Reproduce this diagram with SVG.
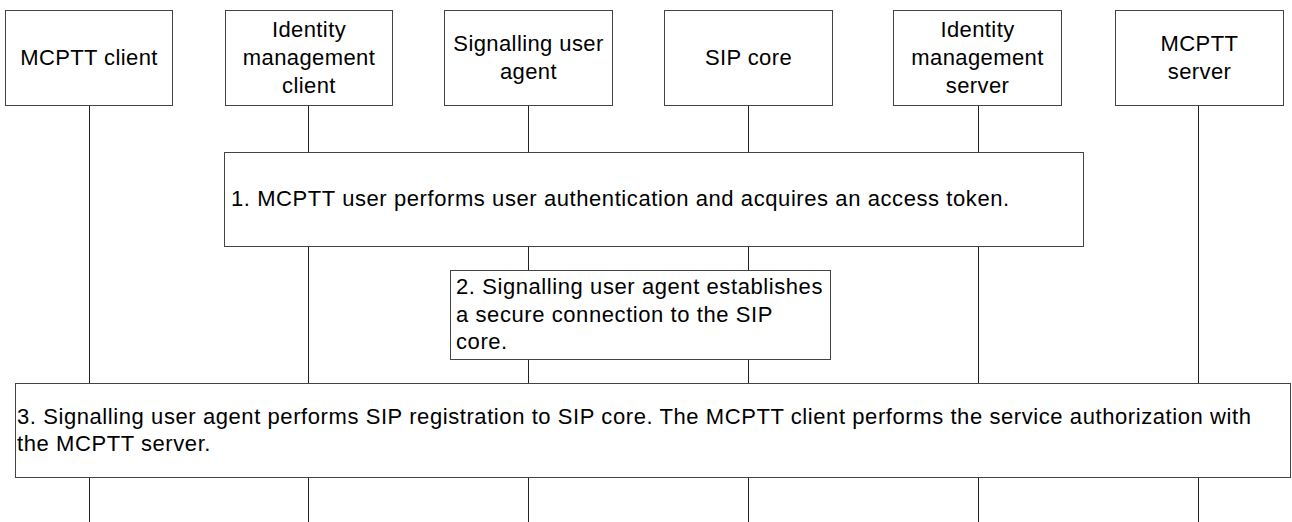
<svg xmlns="http://www.w3.org/2000/svg" width="1292" height="522" viewBox="0 0 1292 522">
<style>
.box{fill:#fff;stroke:#444;stroke-width:1}
.life{stroke:#222;stroke-width:1}
.h{font-family:"Liberation Sans",Arial,sans-serif;font-size:22px;letter-spacing:0.4px;fill:#000;text-anchor:middle}
.s{font-family:"Liberation Sans",Arial,sans-serif;font-size:22px;letter-spacing:0.58px;fill:#000}
</style>
<rect width="1292" height="522" fill="#fff"/>
<g id="connectors">
<line class="life" x1="89.5" y1="105" x2="89.5" y2="522"/>
<line class="life" x1="308.5" y1="105" x2="308.5" y2="522"/>
<line class="life" x1="528.5" y1="105" x2="528.5" y2="522"/>
<line class="life" x1="748.5" y1="105" x2="748.5" y2="522"/>
<line class="life" x1="978.5" y1="105" x2="978.5" y2="522"/>
<line class="life" x1="1198.5" y1="105" x2="1198.5" y2="522"/>
</g>
<g id="mcptt-client">
<rect class="box" x="5.5" y="10.5" width="167" height="95"/>
<text class="h" x="89" y="65">MCPTT client</text>
</g>
<g id="idm-client">
<rect class="box" x="225.5" y="10.5" width="167" height="95"/>
<text class="h" x="309" y="37">Identity</text>
<text class="h" x="309" y="65">management</text>
<text class="h" x="309" y="93">client</text>
</g>
<g id="sig-ua">
<rect class="box" x="444.5" y="10.5" width="168" height="95"/>
<text class="h" x="528.5" y="51">Signalling user</text>
<text class="h" x="528.5" y="79">agent</text>
</g>
<g id="sip-core">
<rect class="box" x="664.5" y="10.5" width="168" height="95"/>
<text class="h" x="748.5" y="65">SIP core</text>
</g>
<g id="idm-server">
<rect class="box" x="893.5" y="10.5" width="168" height="95"/>
<text class="h" x="977.5" y="37">Identity</text>
<text class="h" x="977.5" y="65">management</text>
<text class="h" x="977.5" y="93">server</text>
</g>
<g id="mcptt-server">
<rect class="box" x="1115.5" y="10.5" width="168" height="95"/>
<text class="h" x="1199.5" y="51">MCPTT</text>
<text class="h" x="1199.5" y="79">server</text>
</g>
<g id="step1">
<rect class="box" x="224.5" y="152.5" width="859" height="94"/>
<text class="s" x="231" y="206">1. MCPTT user performs user authentication and acquires an access token.</text>
</g>
<g id="step2">
<rect class="box" x="450.5" y="270.5" width="380" height="89"/>
<text class="s" x="456" y="294">2. Signalling user agent establishes</text>
<text class="s" x="456" y="322">a secure connection to the SIP</text>
<text class="s" x="456" y="349">core.</text>
</g>
<g id="step3">
<rect class="box" x="15.5" y="383.5" width="1275" height="94"/>
<text class="s" x="17" y="424">3. Signalling user agent performs SIP registration to SIP core. The MCPTT client performs the service authorization with</text>
<text class="s" x="17" y="451">the MCPTT server.</text>
</g>
</svg>
